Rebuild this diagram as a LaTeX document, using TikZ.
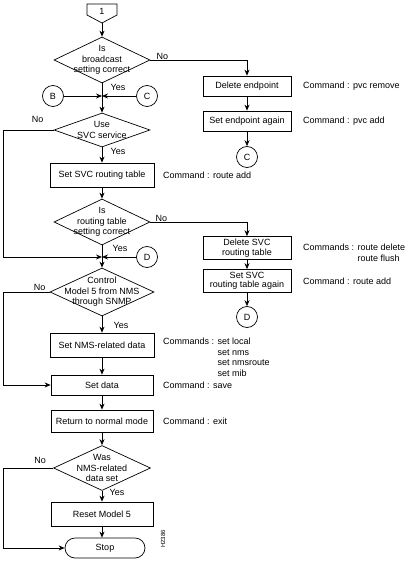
\documentclass[tikz,border=0pt]{standalone}
\usepackage{fontspec}
\setmainfont{Liberation Sans}
\usetikzlibrary{shapes,arrows.meta,positioning,calc}

\begin{document}
\begin{tikzpicture}[x=1pt, y=-1pt,
    font=\fontsize{9}{10.5}\selectfont,
    line/.style={line width=0.7pt},
    process/.style={rectangle, draw, line width=0.7pt, minimum width=104pt, minimum height=24pt, inner sep=1pt, align=center},
    sideproc/.style={rectangle, draw, line width=0.7pt, minimum width=88pt, minimum height=20pt, inner sep=1pt, align=center, font=\fontsize{9}{9.5}\selectfont},
    decision/.style={diamond, draw, line width=0.7pt, inner sep=0pt},
    dtext/.style={align=center, inner sep=0pt},
    conn/.style={circle, draw, line width=0.7pt, minimum size=21pt, inner sep=0pt},
    terminal/.style={rectangle, draw, line width=0.7pt, rounded corners=10pt, minimum width=80pt, minimum height=20pt},
    cmd/.style={anchor=west, inner sep=0pt},
    cmdlist/.style={anchor=north west, inner sep=0pt},
    yn/.style={inner sep=0pt},
    flow/.style={->, >={Stealth[length=6pt, width=5pt]}, line width=0.7pt}
]
\useasboundingbox (0,0) rectangle (409,561);

% Off-page connector 1
\coordinate (p1tip) at (102,23);
\draw[line] (87,4) -- (117,4) -- (117,15) -- (p1tip) -- (87,15) -- cycle;
\node (p1) at (102,11) {1};

% Main column
\node[decision, minimum width=96pt, minimum height=46pt] (d1) at (102,60) {};
\node[dtext] (d1t) at (d1) {Is\\broadcast\\setting correct};

\coordinate (j1) at (102,96);
\node[conn] (B) at (53,96) {B};
\node[conn] (C1) at (147,96) {C};

\node[decision, minimum width=96pt, minimum height=34pt] (d2) at (102,130) {};
\node[dtext] (d2t) at (d2) {Use\\SVC service};

\node[process] (b1) at (102,175) {Set SVC routing table};

\node[decision, minimum width=96pt, minimum height=46pt] (d3) at (102,222) {};
\node[dtext] (d3t) at (d3) {Is\\routing table\\setting correct};

\coordinate (j2) at (102,257);
\node[conn] (D1) at (147,257) {D};

\node[decision, minimum width=104pt, minimum height=48pt] (d4) at (102,292) {};
\node[dtext] (d4t) at (d4) {Control\\Model 5 from NMS\\through SNMP};

\node[process] (b2) at (102,345) {Set NMS-related data};
\node[process, minimum width=102pt, minimum height=20pt] (b3) at (102,385) {Set data};
\node[process, minimum width=102pt, minimum height=22pt] (b4) at (102,421) {Return to normal mode};

\node[decision, minimum width=97pt, minimum height=45pt] (d5) at (102,468) {};
\node[dtext] (d5t) at (d5) {Was\\NMS-related\\data set};

\node[process, minimum width=102pt] (b5) at (102,514) {Reset Model 5};
\node[terminal] (stop) at (105,548) {Stop};

% Right column
\node[sideproc] (r1) at (247,86) {Delete endpoint};
\node[sideproc] (r2) at (247,121) {Set endpoint again};
\node[conn] (C2) at (247,157) {C};
\node[sideproc, minimum height=23pt] (r3) at (247,248) {Delete SVC\\routing table};
\node[sideproc, minimum height=23pt] (r4) at (247,281) {Set SVC\\routing table again};
\node[conn] (D2) at (247,317) {D};

% Left rail
\coordinate (rail) at (3,0);

% Yes / No labels
\node[yn] (y1) at ($(d1.south)+(16,4)$) {Yes};
\node[yn] (y2) at ($(d2.south)+(16,4)$) {Yes};
\node[yn] (y3) at ($(d3.south)+(18,3)$) {Yes};
\node[yn] (y4) at ($(d4.south)+(19,9)$) {Yes};
\node[yn] (y5) at ($(d5.south)+(15,2)$) {Yes};
\node[yn] (n1) at ($(d1.east)+(12,-4)$) {No};
\node[yn] (n2) at ($(d2.west)+(-16,-11)$) {No};
\node[yn] (n3) at ($(d3.east)+(11,-4)$) {No};
\node[yn] (n4) at ($(d4.west)+(-10,-5)$) {No};
\node[yn] (n5) at ($(d5.west)+(-13,-8)$) {No};

% Commands
\node[cmd] (c1) at (303,86) {Command : pvc remove};
\node[cmd] (c2) at (303,121) {Command : pvc add};
\node[cmd] (c3) at (163,175) {Command : route add};
\node[cmdlist] (c4) at (303,243) {Commands : \begin{tabular}[t]{@{}l@{}}route delete\\route flush\end{tabular}};
\node[cmd] (c5) at (303,281) {Command : route add};
\node[cmdlist] (c6) at (163,337) {Commands : \begin{tabular}[t]{@{}l@{}}set local\\set nms\\set nmsroute\\set mib\end{tabular}};
\node[cmd] (c7) at (163,385) {Command : save};
\node[cmd] (c8) at (163,421) {Command : exit};
\node[rotate=90, font=\fontsize{6}{6}\selectfont] (fig) at (163,539) {H2386};

% Flow: main column
\draw[flow] (p1tip) -- (d1.north);
\draw[flow] (d1.south) -- (d2.north);
\draw[flow] (B) -- (j1);
\draw[flow] (C1) -- (j1);
\draw[flow] (d2.south) -- (b1.north);
\draw[flow] (b1.south) -- (d3.north);
\draw[flow] (d3.south) -- (d4.north);
\draw[flow] (D1) -- (j2);
\draw[flow] (d4.south) -- (b2.north);
\draw[flow] (b2.south) -- (b3.north);
\draw[flow] (b3.south) -- (b4.north);
\draw[flow] (b4.south) -- (d5.north);
\draw[flow] (d5.south) -- (b5.north);
\draw[flow] (b5.south) -- (stop.north -| b5.south);

% Flow: No branches to the right
\draw[flow] (d1.east) -| (r1.north);
\draw[flow] (r1) -- (r2);
\draw[flow] (r2) -- (C2);
\draw[flow] (d3.east) -| (r3.north);
\draw[flow] (r3) -- (r4);
\draw[flow] (r4) -- (D2);

% Flow: No branches on the left rail
\draw[flow] (d2.west) -- (d2.west -| rail) |- (j2);
\draw[flow] (d4.west) -- (d4.west -| rail) |- (b3.west);
\draw[flow] (d5.west) -- (d5.west -| rail) |- (stop.west);

\end{tikzpicture}
\end{document}
